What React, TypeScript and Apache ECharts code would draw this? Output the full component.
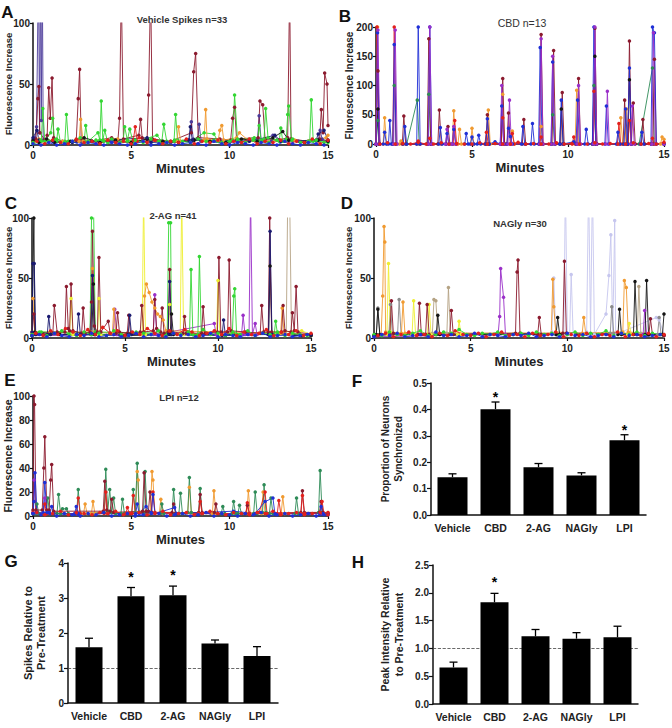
import React, { useEffect, useRef } from "react";
import * as echarts from "echarts";

type Pt = [number, number];

const FONT = "Liberation Sans, Arial, sans-serif";

// ---------- shared baseline sampling grids (minutes) ----------
const BASE_T1 = [0,0.4,0.8,1.2,1.6,2.0,2.4,2.8,3.2,3.6,4.0,4.4,4.8,5.2,5.6,6.0,6.4,6.8,7.2,7.6,8.0,8.4,8.8,9.2,9.6,10.0,10.4,10.8,11.2,11.6,12.0,12.4,12.8,13.2,13.6,14.0,14.4,14.8];
const BASE_T2 = [0.2,0.6,1.0,1.4,1.8,2.2,2.6,3.0,3.4,3.8,4.2,4.6,5.0,5.4,5.8,6.2,6.6,7.0,7.4,7.8,8.2,8.6,9.0,9.4,9.8,10.2,10.6,11.0,11.4,11.8,12.2,12.6,13.0,13.4,13.8,14.2,14.6,15.0];

// ---------- Panel A: Vehicle ----------
const A_MAROON: Pt[] = [[0,3],[0.15,5],[0.25,38],[0.3,48],[0.35,10],[0.6,4],[0.72,8],[0.8,47],[0.88,22],[0.97,55],[1.05,6],[1.5,3],[2.2,4],[2.3,38],[2.37,62],[2.45,5],[3.0,3],[4.0,6],[4.32,4],[4.4,22],[4.49,130],[4.6,5],[5.38,8],[5.47,21],[5.55,6],[5.8,4],[5.88,41],[5.98,130],[6.08,5],[7.0,3],[8.05,10],[8.17,60],[8.27,75],[8.4,6],[9.5,5],[10.05,4],[10.15,22],[10.25,31],[10.35,5],[11.45,6],[11.54,36],[11.68,33],[11.8,5],[12.5,4],[12.95,6],[13.05,130],[13.12,5],[14.0,3],[14.58,5],[14.66,29],[14.75,10],[14.83,59],[14.95,50],[15.0,16]];
const A_PURPLE: Pt[] = [[0,2],[0.1,6],[0.18,15],[0.28,150],[0.33,10],[0.38,150],[0.42,20],[0.47,150],[0.52,4],[1.2,3],[2.5,2],[4.0,3],[5.0,2],[6.0,3],[7.0,2],[7.95,4],[8.05,19],[8.15,5],[8.38,5],[8.45,17],[8.55,3],[10.0,2],[11.0,4],[11.42,5],[11.5,24],[11.6,4],[12.12,3],[12.2,8],[12.5,4],[13.5,3],[14.5,4],[14.6,12],[14.7,5],[15,3]];
const A_GREEN: Pt[] = [[0,1],[0.42,3],[0.5,30],[0.6,3],[0.9,10],[1.0,22],[1.1,4],[1.2,3],[1.27,13],[1.4,2],[1.62,3],[1.7,25],[1.8,3],[2.6,3],[2.68,16],[2.8,3],[3.3,10],[3.4,4],[3.47,36],[3.55,4],[3.65,12],[3.8,2],[4.58,3],[4.66,15],[4.8,4],[4.92,13],[5.1,2],[6.3,8],[6.55,3],[6.65,17],[6.8,3],[7.17,3],[7.25,25],[7.35,4],[8.0,3],[8.7,10],[9.2,9],[9.4,3],[10.15,4],[10.25,41],[10.4,4],[11.25,6],[11.42,3],[11.5,16],[11.6,4],[11.75,5],[11.83,30],[11.95,6],[12.52,3],[12.6,14],[12.7,3],[12.88,5],[12.95,25],[13.0,32],[13.15,4],[14.07,3],[14.15,37],[14.25,3],[15,2]];
const A_ORANGE: Pt[] = [[0,2],[0.3,5],[1.5,3],[2.34,3],[2.42,21],[2.55,3],[4.3,5],[5.2,3],[7.32,3],[7.4,15],[7.5,3],[8.7,4],[8.78,29],[8.85,5],[9.42,4],[9.5,12],[9.6,16],[9.7,4],[10.35,6],[10.5,10],[11.0,3],[13.3,4],[14.0,3],[14.9,6],[15,8]];
const A_BLACK: Pt[] = [[0,4],[0.3,2],[0.7,5],[1.1,2],[1.9,3],[2.6,6],[3.4,2],[4.2,4],[5.0,2],[5.8,5],[6.6,3],[7.4,2],[8.2,4],[9.0,3],[9.8,2],[10.6,5],[11.4,3],[12.2,6],[12.7,11],[13.0,4],[13.8,2],[14.5,4],[15,3]];
const A_NAVY: Pt[] = [[0,6],[0.2,12],[0.3,4],[1.0,3],[2.0,2],[3.0,3],[5.8,6],[6.0,2],[7.92,4],[8.0,15],[8.1,4],[11.0,3],[12.3,8],[12.6,3],[14.4,4],[14.5,9],[14.8,12],[15,4]];
const A_RED: Pt[] = [[5.1,4],[5.2,15],[5.3,3]];
const A_BLUE_BASE = [1,0,2,0,1,3,0,2,1,0,2,1,0,1,3,0,1,2,0,1,2,1,0,3,1,0,2,1,0,2,1,0,3,1,0,2,1,0];
const A_RED_BASE = [3,1,4,2,1,5,2,3,1,4,2,3,1,6,2,4,1,3,2,5,1,3,2,4,1,3,2,5,1,3,2,4,1,3,2,5,1,4];
const A_GREEN_BASE = [2,4,3,5,2,3,6,2,4,3,5,2,3,4,2,5,3,2,4,3,2,5,3,4,2,3,5,2,4,3,2,4,3,5,2,3,4,2];

// ---------- Panel B: CBD ----------
const B_BLUE: Pt[] = [[0,0],[0.08,190],[0.15,0],[0.38,0],[0.45,20],[0.55,0],[0.65,0],[0.72,40],[0.8,0],[0.88,0],[0.95,170],[1.05,0],[1.42,0],[1.5,30],[1.6,0],[2.12,0],[2.2,200],[2.3,0],[2.72,0],[2.8,200],[2.9,0],[3.27,0],[3.35,28],[3.45,0],[3.62,0],[3.7,18],[3.8,0],[3.97,0],[4.05,25],[4.15,0],[4.62,0],[4.7,18],[4.8,0],[4.92,0],[5.0,12],[5.1,0],[5.27,0],[5.35,15],[5.45,0],[5.72,0],[5.8,43],[5.9,0],[6.2,4],[6.47,0],[6.55,65],[6.65,0],[6.82,0],[6.9,27],[7.0,13],[7.1,0],[7.57,0],[7.65,30],[7.75,0],[8.07,0],[8.15,35],[8.25,0],[8.47,0],[8.55,165],[8.65,0],[9.12,0],[9.2,140],[9.3,0],[9.57,0],[9.65,75],[9.75,0],[10.3,4],[10.42,0],[10.5,75],[10.6,0],[10.87,0],[10.95,25],[11.05,0],[11.27,0],[11.35,200],[11.45,0],[11.92,0],[12.0,65],[12.1,0],[12.52,0],[12.6,20],[12.7,0],[12.92,0],[13.0,60],[13.1,0],[13.2,130],[13.3,0],[13.77,0],[13.85,20],[13.95,0],[14.32,0],[14.4,200],[14.5,190],[14.6,0],[15,0]];
const B_PURPLE: Pt[] = [[0,0],[0.1,195],[0.2,0],[0.92,0],[1.0,195],[1.1,0],[2.72,0],[2.8,200],[2.9,0],[3.62,0],[3.7,25],[3.8,0],[3.97,0],[4.05,30],[4.15,0],[6.47,0],[6.55,100],[6.65,0],[6.87,0],[6.95,75],[7.05,0],[8.52,0],[8.6,180],[8.7,0],[9.12,0],[9.2,150],[9.3,0],[10.47,0],[10.55,100],[10.65,0],[11.32,0],[11.4,200],[11.5,0],[11.97,0],[12.05,90],[12.15,0],[13.27,0],[13.35,65],[13.45,0],[14.37,0],[14.45,190],[14.55,0],[15,0]];
const B_MAROON: Pt[] = [[0,0],[0.1,125],[0.2,0],[1.37,0],[1.45,48],[1.55,0],[2.67,0],[2.75,180],[2.85,0],[3.22,0],[3.3,58],[3.4,0],[3.67,0],[3.75,30],[3.85,0],[5.72,0],[5.8,50],[5.9,0],[6.52,0],[6.6,112],[6.7,0],[6.82,0],[6.9,53],[7.0,0],[7.62,0],[7.7,42],[7.8,0],[8.52,0],[8.6,187],[8.7,0],[9.17,0],[9.25,160],[9.35,0],[9.62,0],[9.7,88],[9.8,0],[10.47,0],[10.55,112],[10.65,0],[11.32,0],[11.4,198],[11.5,0],[12.87,0],[12.95,75],[13.05,0],[13.12,0],[13.2,176],[13.3,0],[13.4,70],[13.5,0],[13.82,0],[13.9,42],[14.0,0],[14.42,0],[14.5,145],[14.6,0],[15,0]];
const B_RED: Pt[] = [[0,0],[0.05,200],[0.15,0],[0.87,0],[0.95,200],[1.05,0],[2.12,0],[2.2,5],[2.3,0],[2.72,0],[2.8,10],[2.9,0],[4.02,0],[4.1,40],[4.2,0],[5.67,0],[5.75,20],[5.85,0],[6.52,0],[6.6,45],[6.7,0],[7.02,0],[7.1,18],[7.2,0],[8.52,0],[8.6,12],[8.7,0],[10.22,0],[10.3,12],[10.4,0],[11.27,0],[11.35,90],[11.45,0],[12.57,0],[12.65,35],[12.75,0],[13.12,0],[13.2,40],[13.3,0],[14.32,0],[14.4,10],[14.5,0],[15,0]];
const B_ORANGE: Pt[] = [[0,0],[0.08,200],[0.15,0],[0.37,0],[0.45,45],[0.55,0],[1.22,0],[1.3,5],[1.4,0],[3.97,0],[4.05,57],[4.15,0],[4.27,0],[4.35,25],[4.45,0],[4.92,0],[5.0,27],[5.1,0],[5.77,0],[5.85,58],[5.95,0],[6.52,0],[6.6,85],[6.7,0],[7.02,0],[7.1,22],[7.2,0],[8.52,0],[8.6,30],[8.7,0],[10.37,0],[10.45,92],[10.55,0],[12.67,0],[12.75,45],[12.85,0],[12.97,0],[13.05,60],[13.15,0],[14.82,0],[14.9,12],[15,8]];
const B_GREEN: Pt[] = [[0,0],[0.1,40],[0.2,0],[0.87,0],[0.95,100],[1.05,0],[1.6,0],[2.15,75],[2.25,0],[2.67,0],[2.75,85],[2.85,0],[9.12,0],[9.2,50],[9.3,0],[11.27,0],[11.35,100],[11.45,0],[13.7,0],[14.4,130],[14.5,0]];
const B_BLACK: Pt[] = [[0,0],[0.1,60],[0.2,0],[9.57,0],[9.65,60],[9.75,0],[11.32,0],[11.4,150],[11.5,0],[13.12,0],[13.2,110],[13.3,0],[15,0]];
const B_RED_BASE = [0,2,0,1,0,3,0,0,2,0,1,0,0,2,0,1,0,0,3,0,1,0,0,2,0,1,0,0,2,0,1,0,0,2,0,1,0,3];

// ---------- Panel C: 2-AG ----------
const C_MAROON: Pt[] = [[0,3],[0.1,20],[0.2,4],[0.6,3],[1.12,4],[1.2,27],[1.35,5],[1.77,5],[1.85,43],[1.95,8],[2.02,6],[2.1,45],[2.2,6],[2.67,4],[2.75,25],[2.85,4],[3.12,5],[3.2,30],[3.25,89],[3.35,10],[3.52,5],[3.6,67],[3.7,5],[4.1,14],[4.2,4],[4.52,4],[4.6,21],[4.7,5],[5.12,4],[5.2,19],[5.3,4],[5.82,5],[5.9,27],[6.0,5],[6.52,6],[6.6,32],[6.7,8],[6.92,5],[7.0,25],[7.1,4],[7.32,5],[7.4,57],[7.5,5],[8.12,4],[8.2,18],[8.3,4],[9.12,4],[9.2,26],[9.3,4],[9.97,5],[10.05,67],[10.15,5],[10.52,5],[10.6,65],[10.7,6],[11.5,5],[12.27,4],[12.35,27],[12.45,5],[12.7,5],[12.78,100],[12.88,5],[13.42,5],[13.5,27],[13.6,6],[13.92,5],[14.0,21],[14.1,6],[14.2,43],[14.3,5],[15,3]];
const C_NAVY: Pt[] = [[0,5],[0.05,62],[0.12,62],[0.2,3],[0.82,3],[0.9,18],[1.0,3],[2.42,3],[2.5,20],[2.6,3],[3.17,3],[3.25,52],[3.35,3],[5.17,3],[5.25,19],[5.35,3],[7.32,3],[7.4,47],[7.5,3],[10.22,2],[10.3,15],[10.4,2],[12.72,3],[12.8,89],[12.9,3],[14.5,2],[15,3]];
const C_GREEN: Pt[] = [[0,2],[0.5,5],[3.12,4],[3.2,100],[3.3,120],[3.4,5],[7.27,4],[7.35,96],[7.45,96],[7.5,4],[8.47,3],[8.55,57],[8.65,3],[8.92,3],[9.0,68],[9.1,3],[10.77,3],[10.85,35],[10.9,41],[11.0,3],[13.02,3],[13.1,14],[13.2,3],[15,2]];
const C_YELLOW: Pt[] = [[0,3],[2.02,3],[2.1,33],[2.2,3],[3.52,3],[3.6,33],[3.7,3],[5.92,3],[6.0,120],[6.1,3],[7.32,3],[7.4,28],[7.5,3],[7.97,3],[8.05,120],[8.15,3],[9.92,3],[10.0,48],[10.1,3],[14.5,6],[15,3]];
const C_ORANGE: Pt[] = [[0,5],[0.05,33],[0.15,5],[3.17,5],[3.25,58],[3.35,5],[4.32,4],[4.4,24],[4.5,4],[5.97,4],[6.05,35],[6.15,45],[6.3,38],[6.45,30],[6.6,25],[6.75,20],[6.9,18],[7.05,15],[7.2,6],[13.37,4],[13.45,25],[13.55,4],[15,3]];
const C_PURPLE: Pt[] = [[0,2],[4.37,3],[4.45,24],[4.55,3],[6.52,3],[6.6,36],[6.7,3],[9.8,12],[9.9,3],[11.27,3],[11.35,19],[11.45,3],[11.67,3],[11.75,120],[11.85,3],[12.0,12],[12.1,3],[15,2]];
const C_TAN: Pt[] = [[0,2],[13.67,3],[13.75,120],[13.85,120],[13.95,3],[15,2]];
const C_BLACK: Pt[] = [[0,2],[0.1,100],[0.15,5],[1.5,3],[3.22,3],[3.3,45],[3.4,3],[5.0,2],[7.42,3],[7.5,20],[7.6,3],[12.72,3],[12.8,60],[12.9,3],[15,2]];
const C_BLUE_BASE = [2,3,1,4,2,1,3,2,4,1,2,3,1,2,4,1,3,2,1,4,2,3,1,2,4,1,3,2,1,3,2,4,1,2,3,1,2,3];
const C_RED_BASE = [4,2,6,3,8,5,2,7,3,9,4,6,2,5,3,8,4,2,6,3,7,5,2,4,6,3,8,2,5,3,4,7,2,5,3,6,2,4];
const C_GREEN_BASE = [3,5,2,4,6,3,2,5,3,4,2,6,3,2,5,4,3,6,2,4,3,5,2,7,3,4,2,5,3,6,2,4,3,5,2,4,3,2];

// ---------- Panel D: NAGly ----------
const D_ORANGE: Pt[] = [[0,2],[0.37,3],[0.45,35],[0.52,93],[0.56,80],[0.6,5],[1.42,4],[1.5,30],[1.6,4],[9.17,4],[9.25,49],[9.3,26],[9.4,5],[10.77,4],[10.85,17],[10.95,4],[12.87,5],[12.95,48],[13.05,42],[13.15,5],[15,3]];
const D_YELLOW: Pt[] = [[0,2],[0.67,3],[0.75,62],[0.85,5],[1.97,3],[2.05,31],[2.15,3],[2.77,3],[2.85,28],[2.95,3],[4.32,3],[4.4,14],[4.5,3],[13.12,3],[13.2,12],[13.3,3],[15,2]];
const D_MAROON: Pt[] = [[0,2],[0.82,3],[0.9,31],[1.0,4],[2.27,3],[2.35,29],[2.45,3],[2.67,3],[2.75,28],[2.85,3],[3.92,3],[4.0,23],[4.1,3],[7.32,4],[7.4,55],[7.45,65],[7.55,4],[8.47,3],[8.55,17],[8.65,3],[9.77,4],[9.85,64],[9.95,4],[14.22,3],[14.3,16],[14.4,3],[15,2]];
const D_GRAY: Pt[] = [[0,2],[0.12,3],[0.2,25],[0.3,3],[0.77,3],[0.85,28],[0.95,3],[1.22,3],[1.3,32],[1.4,3],[12.22,4],[12.3,26],[12.4,4],[14.67,3],[14.75,17],[14.85,3],[15,2]];
const D_TAN: Pt[] = [[0,2],[3.02,4],[3.1,32],[3.2,31],[3.3,4],[3.77,4],[3.85,42],[3.95,4],[13.62,4],[13.7,43],[13.8,4],[15,2]];
const D_BLACK: Pt[] = [[0,2],[0.12,3],[0.2,24],[0.3,3],[3.22,3],[3.3,19],[3.4,3],[9.42,3],[9.5,17],[9.6,3],[12.62,3],[12.7,24],[12.8,3],[13.42,3],[13.5,47],[13.6,3],[14.02,3],[14.1,48],[14.2,3],[14.92,3],[15,20]];
const D_PURPLE: Pt[] = [[0,1],[6.42,3],[6.5,18],[6.55,58],[6.7,34],[6.8,3],[13.92,3],[14.0,23],[14.1,3],[15,2]];
const D_LAVENDER: Pt[] = [[9.2,5],[9.3,50],[9.4,3],[9.82,3],[9.9,130],[10.0,3],[10.12,3],[10.2,53],[10.3,3],[11.0,5],[11.1,130],[11.2,3],[11.3,130],[11.4,3],[12.0,20],[12.15,52],[12.25,86],[12.35,3],[12.45,98],[12.5,3],[14.6,17],[14.75,15],[15,3]];
const D_BLUE_BASE = [1,3,2,4,1,2,3,1,5,2,3,1,2,4,1,3,2,1,3,2,4,1,2,3,1,4,2,3,1,2,3,1,4,2,3,1,2,3];
const D_RED_BASE = [2,4,1,3,5,2,3,1,4,2,6,3,2,4,1,3,5,2,3,1,4,2,3,5,1,3,2,4,1,3,2,5,1,3,2,4,1,3];
const D_GREEN_BASE = [3,2,5,3,2,4,6,2,3,5,4,7,3,2,4,3,5,2,3,4,2,5,3,4,2,3,5,2,4,3,6,2,4,3,5,2,4,3];

// ---------- Panel E: LPI ----------
const E_MAROON: Pt[] = [[0,5],[0.05,100],[0.08,93],[0.15,5],[0.47,5],[0.55,40],[0.6,66],[0.7,5],[0.82,5],[0.9,30],[0.95,43],[1.05,4],[3.57,4],[3.65,29],[3.75,5],[3.92,4],[4.0,14],[4.1,3],[5.57,4],[5.65,36],[5.75,4],[5.87,4],[5.95,20],[6.05,3],[7.07,3],[7.15,10],[7.25,2],[8.42,3],[8.5,18],[8.6,3],[9.22,3],[9.3,10],[9.4,2],[10.82,2],[10.9,9],[11.0,2],[13.62,3],[13.7,21],[13.8,3],[14.57,3],[14.65,12],[14.75,3],[15,2]];
const E_GREEN: Pt[] = [[0,2],[0.12,2],[0.2,10],[0.3,2],[0.67,2],[0.75,15],[0.85,2],[1.22,2],[1.3,18],[1.4,2],[1.5,6],[1.7,6],[1.8,2],[2.22,2],[2.3,22],[2.4,2],[3.62,3],[3.7,39],[3.8,4],[3.9,22],[4.0,3],[4.1,15],[4.2,2],[4.47,2],[4.55,14],[4.65,2],[5.02,2],[5.1,22],[5.2,3],[5.3,44],[5.4,3],[5.62,3],[5.7,37],[5.8,3],[6.47,2],[6.55,10],[6.65,2],[7.07,2],[7.15,22],[7.25,2],[7.42,2],[7.5,19],[7.6,2],[7.87,3],[7.95,32],[8.05,3],[8.42,2],[8.5,23],[8.6,2],[9.57,2],[9.65,8],[9.75,2],[10.12,2],[10.2,12],[10.3,2],[10.42,2],[10.5,9],[10.6,2],[11.22,2],[11.3,20],[11.4,2],[11.67,3],[11.75,26],[11.85,3],[12.02,2],[12.1,15],[12.2,2],[13.32,2],[13.4,15],[13.5,2],[14.52,3],[14.6,38],[14.7,3],[15,2]];
const E_ORANGE: Pt[] = [[0,2],[2.57,2],[2.65,10],[2.75,2],[2.97,2],[3.05,12],[3.15,2],[5.22,3],[5.3,37],[5.35,30],[5.4,3],[5.97,3],[6.05,37],[6.1,30],[6.2,3],[6.42,2],[6.5,14],[6.6,2],[7.87,3],[7.95,24],[8.05,3],[9.12,2],[9.2,21],[9.3,2],[10.87,2],[10.95,21],[11.05,2],[11.62,2],[11.7,20],[11.8,2],[12.62,2],[12.7,16],[12.8,2],[15,3]];
const E_RED: Pt[] = [[0,3],[0.52,2],[0.6,10],[0.7,2],[2.22,2],[2.3,15],[2.4,2],[3.62,2],[3.7,20],[3.8,2],[4.72,2],[4.8,7],[4.9,2],[5.02,2],[5.1,17],[5.2,2],[6.02,3],[6.1,20],[6.2,3],[8.42,2],[8.5,12],[8.6,2],[10.82,2],[10.9,11],[11.0,2],[11.5,3],[11.8,20],[11.9,2],[12.42,2],[12.5,13],[12.6,2],[13.62,2],[13.7,17],[13.8,2],[14.62,2],[14.7,12],[14.8,2],[15,3]];
const E_BLUE: Pt[] = [[0,2],[0.05,12],[0.1,36],[0.2,3],[0.52,3],[0.6,28],[0.7,3],[0.87,2],[0.95,8],[1.05,2],[2.12,2],[2.2,8],[2.3,2],[5.22,2],[5.3,10],[5.4,2],[5.75,8],[6.02,2],[6.1,18],[6.2,2],[7.2,7],[7.3,2],[10.2,4],[11.3,2],[11.8,12],[12.2,15],[12.3,2],[14.57,2],[14.65,8],[14.75,2],[15,1]];
const E_PURPLE: Pt[] = [[0,3],[0.05,30],[0.15,3],[0.52,2],[0.6,15],[0.7,2],[15,2]];
const E_BLUE_BASE = [2,1,3,0,2,1,0,2,1,3,0,1,2,0,1,3,2,0,1,2,0,1,3,0,2,1,0,2,1,3,0,1,2,0,1,2,0,1];
const E_RED_BASE = [3,1,2,4,1,3,2,1,3,2,4,1,2,3,1,2,4,1,2,3,1,2,4,2,1,3,2,1,3,2,4,1,2,3,1,2,3,1];

// ---------- Bar panels ----------
const CATS = ["Vehicle", "CBD", "2-AG", "NAGly", "LPI"];
const F_VALUES = [0.143, 0.401, 0.181, 0.150, 0.283];
const F_ERR = [0.013, 0.027, 0.014, 0.010, 0.021];
const F_SIG = [0, 1, 0, 0, 1];
const G_VALUES = [1.59, 3.05, 3.08, 1.70, 1.34];
const G_ERR = [0.26, 0.25, 0.26, 0.10, 0.27];
const G_SIG = [0, 1, 1, 0, 0];
const H_VALUES = [0.657, 1.83, 1.217, 1.175, 1.199];
const H_ERR = [0.096, 0.16, 0.123, 0.108, 0.20];
const H_SIG = [0, 1, 0, 0, 0];

const C_COL = {
  maroon: "#8b1a2e", purple: "#9a2fc8", navy: "#1a1a70", blue: "#1f2fd6", red: "#e3201c",
  green: "#33d633", dgreen: "#2e8b57", orange: "#f09a30", black: "#151515", yellow: "#eeee30",
  tan: "#b5a384", gray: "#8a8a8a", lavender: "#c6c6ee", violet: "#4b3a9a",
};

const pairs = (t: number[], v: number[]): Pt[] => t.map((x, i) => [x, v[i]]);

interface TraceDef {
  title: string; bold: boolean; tx: number; ty: number;
  yMax: number; yInt: number;
  grid: { left: number; top: number; width: number; height: number };
  yNameGap: number; yNameSize: number;
  series: { color: string; data: Pt[] }[];
}

const TRACES: TraceDef[] = [
  {
    title: "Vehicle Spikes n=33", bold: true, tx: 182, ty: 19, yMax: 100, yInt: 50,
    grid: { left: 33, top: 23, width: 295, height: 122 }, yNameGap: 20, yNameSize: 9.5,
    series: [
      { color: C_COL.violet, data: A_PURPLE }, { color: C_COL.maroon, data: A_MAROON },
      { color: C_COL.green, data: A_GREEN }, { color: C_COL.orange, data: A_ORANGE },
      { color: C_COL.black, data: A_BLACK }, { color: C_COL.navy, data: A_NAVY },
      { color: C_COL.red, data: A_RED },
      { color: C_COL.green, data: pairs(BASE_T1, A_GREEN_BASE) },
      { color: C_COL.red, data: pairs(BASE_T2, A_RED_BASE) },
      { color: C_COL.blue, data: pairs(BASE_T1, A_BLUE_BASE) },
    ],
  },
  {
    title: "CBD n=13", bold: false, tx: 522, ty: 23, yMax: 200, yInt: 50,
    grid: { left: 376, top: 27, width: 288, height: 117 }, yNameGap: 22, yNameSize: 10,
    series: [
      { color: C_COL.dgreen, data: B_GREEN }, { color: C_COL.black, data: B_BLACK },
      { color: C_COL.orange, data: B_ORANGE }, { color: C_COL.red, data: B_RED },
      { color: C_COL.maroon, data: B_MAROON }, { color: C_COL.blue, data: B_BLUE },
      { color: C_COL.purple, data: B_PURPLE },
      { color: C_COL.red, data: pairs(BASE_T2, B_RED_BASE) },
    ],
  },
  {
    title: "2-AG n=41", bold: true, tx: 173, ty: 215, yMax: 100, yInt: 50,
    grid: { left: 32, top: 218, width: 279, height: 120 }, yNameGap: 19, yNameSize: 9.5,
    series: [
      { color: C_COL.tan, data: C_TAN }, { color: C_COL.yellow, data: C_YELLOW },
      { color: C_COL.purple, data: C_PURPLE }, { color: C_COL.orange, data: C_ORANGE },
      { color: C_COL.green, data: C_GREEN }, { color: C_COL.black, data: C_BLACK },
      { color: C_COL.maroon, data: C_MAROON }, { color: C_COL.navy, data: C_NAVY },
      { color: C_COL.green, data: pairs(BASE_T1, C_GREEN_BASE) },
      { color: C_COL.red, data: pairs(BASE_T2, C_RED_BASE) },
      { color: C_COL.blue, data: pairs(BASE_T1, C_BLUE_BASE) },
    ],
  },
  {
    title: "NAGly n=30", bold: true, tx: 520, ty: 223, yMax: 100, yInt: 50,
    grid: { left: 374, top: 218, width: 290, height: 120 }, yNameGap: 21, yNameSize: 9.5,
    series: [
      { color: C_COL.lavender, data: D_LAVENDER }, { color: C_COL.tan, data: D_TAN },
      { color: C_COL.gray, data: D_GRAY }, { color: C_COL.yellow, data: D_YELLOW },
      { color: C_COL.orange, data: D_ORANGE }, { color: C_COL.purple, data: D_PURPLE },
      { color: C_COL.maroon, data: D_MAROON }, { color: C_COL.black, data: D_BLACK },
      { color: C_COL.green, data: pairs(BASE_T1, D_GREEN_BASE) },
      { color: C_COL.red, data: pairs(BASE_T2, D_RED_BASE) },
      { color: C_COL.blue, data: pairs(BASE_T1, D_BLUE_BASE) },
    ],
  },
  {
    title: "LPI n=12", bold: true, tx: 179, ty: 397, yMax: 100, yInt: 20,
    grid: { left: 33, top: 396, width: 295, height: 120 }, yNameGap: 20, yNameSize: 10.5,
    series: [
      { color: C_COL.orange, data: E_ORANGE }, { color: C_COL.dgreen, data: E_GREEN },
      { color: C_COL.purple, data: E_PURPLE }, { color: C_COL.maroon, data: E_MAROON },
      { color: C_COL.red, data: E_RED }, { color: C_COL.blue, data: E_BLUE },
      { color: C_COL.red, data: pairs(BASE_T2, E_RED_BASE) },
      { color: C_COL.blue, data: pairs(BASE_T1, E_BLUE_BASE) },
    ],
  },
];

interface BarDef {
  values: number[]; err: number[]; sig: number[];
  max: number; interval: number; decimals: number;
  grid: { left: number; top: number; width: number; height: number };
  barWidth: number; name: string; nameSize: number; nameLH: number; nameGap: number;
  starOffset: number; refLine: boolean;
}

const BARS: BarDef[] = [
  {
    values: F_VALUES, err: F_ERR, sig: F_SIG, max: 0.5, interval: 0.1, decimals: 1,
    grid: { left: 431, top: 383, width: 215, height: 132 }, barWidth: 30,
    name: "Proportion of Neurons\nSynchronized", nameSize: 10, nameLH: 13, nameGap: 26,
    starOffset: 8, refLine: false,
  },
  {
    values: G_VALUES, err: G_ERR, sig: G_SIG, max: 4, interval: 1, decimals: 0,
    grid: { left: 68, top: 563, width: 210, height: 140 }, barWidth: 27,
    name: "Spikes Relative to\nPre-Treatment", nameSize: 11, nameLH: 13, nameGap: 21,
    starOffset: 14, refLine: true,
  },
  {
    values: H_VALUES, err: H_ERR, sig: H_SIG, max: 2.5, interval: 0.5, decimals: 1,
    grid: { left: 433, top: 565, width: 205, height: 139 }, barWidth: 28,
    name: "Peak Intensity Relative\nto Pre-Treatment", nameSize: 10.5, nameLH: 14, nameGap: 27,
    starOffset: 14, refLine: true,
  },
];

const LETTERS: [string, number, number][] = [
  ["A", 7.5, 12], ["B", 345, 16], ["C", 11, 203], ["D", 347, 203],
  ["E", 10, 380], ["F", 357, 381], ["G", 11, 561], ["H", 358, 562],
];

function buildOption() {
  const grid: any[] = [];
  const xAxis: any[] = [];
  const yAxis: any[] = [];
  const series: any[] = [];
  const graphic: any[] = [];
  const axisLine = { show: true, lineStyle: { color: "#111", width: 1.5 } };
  const tickLabel = { fontSize: 10, fontWeight: "bold", color: "#222", fontFamily: FONT };

  TRACES.forEach((p, i) => {
    grid.push({ ...p.grid, containLabel: false, outerBoundsMode: "none" });
    xAxis.push({
      gridIndex: i, type: "value", min: 0, max: 15, interval: 5,
      axisLine, axisTick: { show: true, length: 3, lineStyle: { color: "#111", width: 1.2 } },
      axisLabel: { ...tickLabel, margin: 5 }, splitLine: { show: false },
      name: "Minutes", nameLocation: "middle", nameGap: 17, nameMoveOverlap: false,
      nameTextStyle: { fontSize: 13, fontWeight: "bold", color: "#222", fontFamily: FONT },
    });
    yAxis.push({
      gridIndex: i, type: "value", min: 0, max: p.yMax, interval: p.yInt,
      axisLine, axisTick: { show: true, length: 3, lineStyle: { color: "#111", width: 1.2 } },
      axisLabel: { ...tickLabel, margin: 3 }, splitLine: { show: false },
      name: "Fluorescence Increase", nameLocation: "middle", nameGap: p.yNameGap, nameMoveOverlap: false,
      nameTextStyle: { fontSize: p.yNameSize, fontWeight: "bold", color: "#222", fontFamily: FONT },
    });
    p.series.forEach((s) => {
      series.push({
        type: "line", xAxisIndex: i, yAxisIndex: i, data: s.data, clip: true, silent: true,
        symbol: "circle", symbolSize: 3.5, showSymbol: true,
        lineStyle: { width: 0.9, color: s.color }, itemStyle: { color: s.color },
      });
    });
    graphic.push({
      type: "text", x: p.tx, y: p.ty, z: 100,
      style: {
        text: p.title, fontSize: p.bold ? 9.5 : 10.5, fontWeight: p.bold ? "bold" : "normal",
        fontFamily: FONT, fill: "#333", align: "center", verticalAlign: "middle",
      },
    });
  });

  BARS.forEach((b, j) => {
    const i = TRACES.length + j;
    grid.push({ ...b.grid, containLabel: false, outerBoundsMode: "none" });
    xAxis.push({
      gridIndex: i, type: "category", data: CATS, axisLine, axisTick: { show: false },
      axisLabel: { fontSize: 10.5, fontWeight: "bold", color: "#222", fontFamily: FONT, margin: 7, interval: 0 },
      splitLine: { show: false },
    });
    yAxis.push({
      gridIndex: i, type: "value", min: 0, max: b.max, interval: b.interval,
      axisLine, axisTick: { show: true, length: 4, lineStyle: { color: "#111", width: 1.2 } },
      axisLabel: { ...tickLabel, margin: 4, formatter: (v: number) => v.toFixed(b.decimals) },
      splitLine: { show: false },
      name: b.name, nameLocation: "middle", nameGap: b.nameGap, nameMoveOverlap: false,
      nameTextStyle: { fontSize: b.nameSize, lineHeight: b.nameLH, fontWeight: "bold", color: "#222", fontFamily: FONT, align: "center" },
    });
    series.push({
      type: "bar", xAxisIndex: i, yAxisIndex: i, data: b.values, barWidth: b.barWidth,
      itemStyle: { color: "#000" }, silent: true, z: 2,
      markLine: b.refLine ? {
        silent: true, symbol: ["none", "none"], label: { show: false },
        lineStyle: { type: "dashed", color: "#444", width: 0.8 },
        data: [{ yAxis: 1 }], z: 1,
      } : undefined,
    });
    series.push({
      type: "custom", xAxisIndex: i, yAxisIndex: i, silent: true, z: 3,
      data: b.values.map((v, k) => [k, v, b.err[k], b.sig[k]]),
      renderItem: (_params: any, api: any) => {
        const k = api.value(0), v = api.value(1), e = api.value(2), s = api.value(3);
        const base = api.coord([k, v]);
        const top = api.coord([k, v + e]);
        const children: any[] = [
          { type: "line", shape: { x1: top[0], y1: base[1], x2: top[0], y2: top[1] }, style: { stroke: "#000", lineWidth: 1.3 } },
          { type: "line", shape: { x1: top[0] - 4, y1: top[1], x2: top[0] + 4, y2: top[1] }, style: { stroke: "#000", lineWidth: 1.3 } },
        ];
        if (s) {
          children.push({
            type: "text", x: top[0], y: top[1] - b.starOffset + 3,
            style: { text: "*", fontSize: 14, fontWeight: "bold", fontFamily: FONT, fill: "#000", align: "center", verticalAlign: "middle" },
          });
        }
        return { type: "group", children };
      },
    });
  });

  LETTERS.forEach(([t, x, y]) => {
    graphic.push({
      type: "text", x, y, z: 100,
      style: { text: t, fontSize: 17, fontWeight: "bold", fontFamily: FONT, fill: "#111", align: "center", verticalAlign: "middle" },
    });
  });

  return { animation: false, backgroundColor: "#fff", grid, xAxis, yAxis, series, graphic };
}

export default function App() {
  const ref = useRef<HTMLDivElement>(null);
  useEffect(() => {
    if (!ref.current) return;
    const chart = echarts.init(ref.current, undefined, { renderer: "svg" });
    chart.setOption(buildOption() as any);
    return () => chart.dispose();
  }, []);
  return <div ref={ref} style={{ position: "absolute", left: 0, top: 0, width: 672, height: 728 }} />;
}
